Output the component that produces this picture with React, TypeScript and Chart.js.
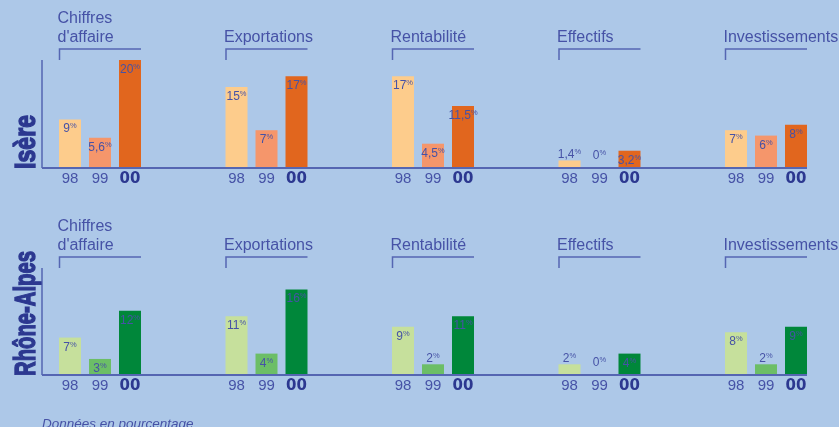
import React, { useEffect, useRef } from "react";
import { Chart, registerables } from "chart.js";

Chart.register(...registerables);

// ---------- data ----------
const groupTitles: string[][] = [
  ["Chiffres", "d'affaire"],
  ["Exportations"],
  ["Rentabilité"],
  ["Effectifs"],
  ["Investissements"],
];
const yearLabels = ["98", "99", "00"];
const panelNames = ["Isère", "Rhône-Alpes"];

const isere98 = [9, 15, 17, 1.4, 7];
const isere99 = [5.6, 7, 4.5, 0, 6];
const isere00 = [20, 17, 11.5, 3.2, 8];

const rhone98 = [7, 11, 9, 2, 8];
const rhone99 = [3, 4, 2, 0, 2];
const rhone00 = [12, 16, 11, 4, 9];

const yMax = 20;
const footnote = "Données en pourcentage";

// ---------- styles ----------
const BG = "#adc8e8";
const isereColors = ["#fdcc8c", "#f5966b", "#e1661e"];
const rhoneColors = ["#c6e09c", "#6cbe66", "#00873a"];
const TEXT = "#4652a6";
const DARK = "#2c3890";
const LINE = "#5566b2";
const SANS = "'Liberation Sans', Arial, Helvetica, sans-serif";

function fmt(v: number) {
  return String(v).replace(".", ",");
}

function makeDecoPlugin(name: string, nameLength: number, footer: string | null) {
  return {
    id: "deco",
    afterDatasetsDraw(chart: any) {
      const ctx: CanvasRenderingContext2D = chart.ctx;
      const yScale = chart.scales.y;
      const axisY = yScale.getPixelForValue(0);
      const axisTop = yScale.getPixelForValue(yMax);
      const metas = [0, 1, 2].map((d) => chart.getDatasetMeta(d));
      const first = metas[0].data[0];
      const lastMeta = metas[2];
      const last = lastMeta.data[lastMeta.data.length - 1];
      const axisX = first.x - first.width / 2 - 17;
      const axisRight = last.x + last.width / 2;

      ctx.save();
      // axes
      ctx.strokeStyle = LINE;
      ctx.lineWidth = 2;
      ctx.beginPath();
      ctx.moveTo(axisX, axisY);
      ctx.lineTo(axisRight, axisY);
      ctx.stroke();
      ctx.lineWidth = 1.5;
      ctx.beginPath();
      ctx.moveTo(axisX, axisTop);
      ctx.lineTo(axisX, axisY);
      ctx.stroke();

      // value labels and year labels
      for (let d = 0; d < 3; d++) {
        const meta = metas[d];
        const ds = chart.data.datasets[d];
        meta.data.forEach((el: any, i: number) => {
          const v = ds.data[i] as number;
          const num = fmt(v);
          ctx.font = `12px ${SANS}`;
          const wNum = ctx.measureText(num).width;
          ctx.font = `7.5px ${SANS}`;
          const wPct = ctx.measureText("%").width;
          const total = wNum + wPct;
          const barTop = el.y;
          const baseline = v < 2.5 ? Math.min(barTop - 2, axisY - 9) : barTop + 13;
          const x0 = el.x - total / 2;
          ctx.fillStyle = TEXT;
          ctx.textAlign = "left";
          ctx.textBaseline = "alphabetic";
          ctx.font = `12px ${SANS}`;
          ctx.fillText(num, x0, baseline);
          ctx.font = `7.5px ${SANS}`;
          ctx.fillText("%", x0 + wNum, baseline - 4);

          // year tick label
          ctx.textAlign = "center";
          if (d === 2) {
            ctx.font = `bold 15px 'DejaVu Sans', ${SANS}`;
            ctx.fillStyle = DARK;
          } else {
            ctx.font = `15px ${SANS}`;
            ctx.fillStyle = TEXT;
          }
          ctx.fillText(yearLabels[d], el.x, axisY + 15);
        });
      }

      // group titles + brackets
      const m0 = metas[0].data;
      const m2 = metas[2].data;
      groupTitles.forEach((lines, i) => {
        const left = m0[i].x - m0[i].width / 2;
        const right = m2[i].x + m2[i].width / 2;
        ctx.fillStyle = TEXT;
        ctx.font = `16px ${SANS}`;
        ctx.textAlign = "left";
        ctx.textBaseline = "alphabetic";
        const lastBase = axisTop - 18.5;
        lines.forEach((ln, k) => {
          ctx.fillText(ln, left - 1.5, lastBase - (lines.length - 1 - k) * 19);
        });
        ctx.strokeStyle = LINE;
        ctx.lineWidth = 1.5;
        ctx.beginPath();
        ctx.moveTo(left + 0.5, axisTop);
        ctx.lineTo(left + 0.5, axisTop - 11);
        ctx.lineTo(right, axisTop - 11);
        ctx.stroke();
      });

      // rotated panel name
      ctx.save();
      ctx.translate(35, axisY + 1);
      ctx.rotate(-Math.PI / 2);
      ctx.font = `bold 30px 'Liberation Sans Narrow', ${SANS}`;
      const w = ctx.measureText(name).width;
      ctx.scale(nameLength / w, 1);
      ctx.fillStyle = DARK;
      ctx.strokeStyle = DARK;
      ctx.lineWidth = 1.4;
      ctx.textAlign = "left";
      ctx.textBaseline = "alphabetic";
      ctx.fillText(name, 0, 0);
      ctx.strokeText(name, 0, 0);
      ctx.restore();

      // footnote
      if (footer) {
        ctx.fillStyle = TEXT;
        ctx.font = `italic 13.5px ${SANS}`;
        ctx.textAlign = "left";
        ctx.textBaseline = "alphabetic";
        ctx.fillText(footer, axisX, axisY + 53);
      }
      ctx.restore();
    },
  };
}

function buildChart(
  canvas: HTMLCanvasElement,
  series: number[][],
  colors: string[],
  name: string,
  nameLength: number,
  padTop: number,
  padBottom: number,
  footer: string | null
) {
  return new Chart(canvas, {
    type: "bar",
    data: {
      labels: groupTitles.map((t) => t.join(" ")),
      datasets: series.map((s, k) => ({
        label: yearLabels[k],
        data: s,
        backgroundColor: colors[k],
        borderWidth: 0,
        categoryPercentage: 90 / 166.5,
        barPercentage: 22 / 30,
        clip: false as any,
      })),
    },
    options: {
      responsive: false,
      animation: false,
      events: [],
      layout: { padding: { top: padTop, bottom: padBottom, left: 100, right: 73 } },
      plugins: { legend: { display: false }, tooltip: { enabled: false } },
      scales: {
        x: { type: "category", offset: false, display: false, grid: { display: false } },
        y: { min: 0, max: yMax, display: false, grid: { display: false } },
      },
    },
    plugins: [makeDecoPlugin(name, nameLength, footer)],
  } as any);
}

export default function App() {
  const topRef = useRef<HTMLCanvasElement>(null);
  const botRef = useRef<HTMLCanvasElement>(null);

  useEffect(() => {
    document.body.style.margin = "0";
    document.body.style.background = BG;
    const c1 = buildChart(topRef.current!, [isere98, isere99, isere00], isereColors, panelNames[0], 54, 60, 39, null);
    const c2 = buildChart(botRef.current!, [rhone98, rhone99, rhone00], rhoneColors, panelNames[1], 125, 61, 52, footnote);
    return () => {
      c1.destroy();
      c2.destroy();
    };
  }, []);

  return (
    <div style={{ position: "relative", width: 839, height: 427, overflow: "hidden", background: BG }}>
      <canvas ref={topRef} width={839} height={207} style={{ position: "absolute", left: 0, top: 0 }} />
      <canvas ref={botRef} width={839} height={220} style={{ position: "absolute", left: 0, top: 207 }} />
    </div>
  );
}
